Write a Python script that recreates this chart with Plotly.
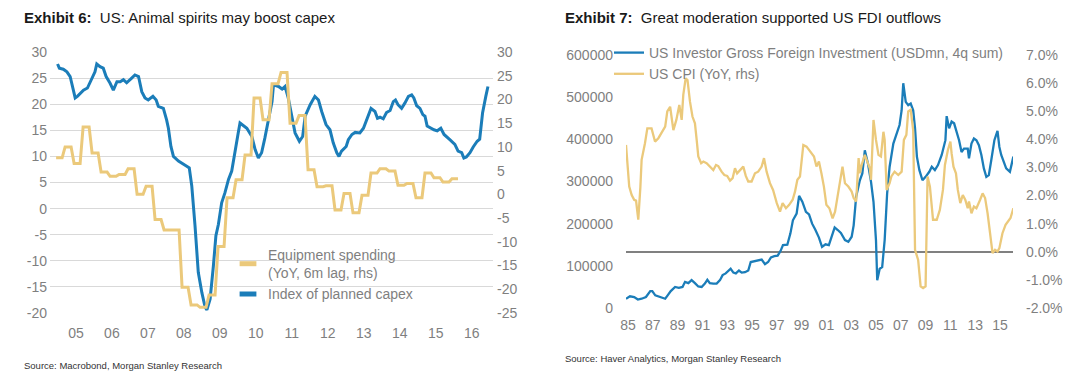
import plotly.graph_objects as go

W, H = 1081, 382

# ---------------- Exhibit 6 data ----------------
capex_t = [2005.04, 2005.09, 2005.20, 2005.30, 2005.39, 2005.44, 2005.53, 2005.59, 2005.67, 2005.76,
           2005.87, 2005.99, 2006.08, 2006.13, 2006.22, 2006.31, 2006.39, 2006.50, 2006.59, 2006.69,
           2006.78, 2006.87, 2006.96, 2007.10, 2007.19, 2007.29, 2007.38, 2007.47, 2007.56, 2007.69,
           2007.78, 2007.84, 2007.98, 2008.07, 2008.12, 2008.19, 2008.26, 2008.40, 2008.54, 2008.63,
           2008.70, 2008.77, 2008.86, 2008.95, 2009.05, 2009.14, 2009.19, 2009.28, 2009.37, 2009.44,
           2009.51, 2009.60, 2009.69, 2009.79, 2009.88, 2009.97, 2010.06, 2010.11, 2010.30, 2010.44,
           2010.53, 2010.62, 2010.71, 2010.80, 2010.90, 2011.00, 2011.04, 2011.18, 2011.28, 2011.36,
           2011.45, 2011.55, 2011.64, 2011.76, 2011.85, 2011.92, 2012.06, 2012.19, 2012.29, 2012.38,
           2012.50, 2012.61, 2012.70, 2012.80, 2012.86, 2012.93, 2013.06, 2013.12, 2013.22, 2013.31,
           2013.44, 2013.54, 2013.63, 2013.75, 2013.86, 2013.93, 2014.00, 2014.09, 2014.18, 2014.28,
           2014.37, 2014.43, 2014.50, 2014.60, 2014.69, 2014.79, 2014.88, 2014.94, 2015.02, 2015.11,
           2015.19, 2015.25, 2015.31, 2015.41, 2015.50, 2015.59, 2015.69, 2015.78, 2015.85, 2015.94,
           2016.08, 2016.17, 2016.27, 2016.33, 2016.40, 2016.50, 2016.59, 2016.70, 2016.77, 2016.85,
           2016.94, 2017.00]
capex_v = [27.7, 26.9, 26.7, 26.2, 25.3, 24.0, 21.2, 21.5, 22.1, 22.7,
           23.1, 24.7, 26.2, 27.7, 27.2, 26.9, 25.3, 24.0, 22.7, 24.3,
           24.3, 24.7, 24.1, 25.0, 25.6, 25.3, 22.4, 21.2, 20.8, 21.5,
           20.8, 19.6, 19.2, 17.0, 15.4, 11.9, 10.0, 9.1, 8.4, 8.1,
           7.8, 4.3, -3.3, -12.2, -16.1, -18.9, -19.4, -17.3, -11.0, -5.2,
           -3.0, 1.1, 3.0, 5.6, 7.2, 11.3, 14.5, 16.4, 15.4, 13.8,
           11.3, 9.7, 10.7, 13.5, 16.7, 20.5, 23.7, 23.4, 22.9, 23.4,
           21.2, 17.7, 14.5, 12.9, 13.8, 17.7, 19.9, 21.5, 20.8, 18.6,
           16.1, 15.1, 12.6, 10.7, 10.0, 11.0, 11.9, 13.2, 14.2, 14.6,
           14.5, 15.4, 17.0, 19.2, 18.6, 17.3, 17.5, 17.2, 18.4, 18.8,
           20.5, 20.8, 19.9, 19.2, 20.2, 21.5, 21.8, 21.2, 19.7, 19.2,
           18.0, 17.7, 15.8, 15.4, 15.1, 14.9, 15.4, 14.2, 13.8, 13.2,
           12.3, 11.0, 10.7, 9.7, 9.9, 10.7, 11.8, 12.9, 13.3, 18.3,
           21.5, 23.4]

# Equipment spending (quarterly figures shown monthly), Jan 2005 - Mar 2016
equip_v = [7.7, 7.7, 7.7, 10.0, 10.0, 10.0, 6.5, 6.5, 6.5, 14.2, 14.2, 14.2,
           8.7, 8.7, 8.7, 4.7, 4.7, 4.7, 3.8, 3.8, 3.8, 4.2, 4.2, 4.2,
           5.4, 5.4, 5.4, 0.0, 0.0, 0.0, 1.7, 1.7, 1.7, -5.3, -5.3, -5.3,
           -7.5, -7.5, -7.5, -7.5, -7.5, -7.5, -19.6, -19.6, -19.6, -23.3, -23.3, -23.3,
           -23.8, -23.8, -23.8, -21.2, -21.2, -21.2, -11.0, -11.0, -11.0, -0.7, -0.7, -0.7,
           3.1, 3.1, 3.1, 8.3, 8.3, 8.3, 20.3, 20.3, 20.3, 15.7, 15.7, 15.7,
           23.3, 23.3, 23.3, 25.7, 25.7, 25.7, 15.0, 15.0, 15.0, 16.6, 16.6, 16.6,
           5.2, 5.2, 5.2, 1.6, 1.6, 1.6, 1.8, 1.8, 1.8, -3.3, -3.3, -3.3,
           0.2, 0.2, 0.2, -3.9, -3.9, -3.9, -0.2, -0.2, -0.2, 4.5, 4.5, 4.5,
           5.4, 5.4, 5.4, 4.9, 4.9, 4.9, 1.9, 1.9, 1.9, 2.3, 2.3, 2.3,
           -0.7, -0.7, -0.7, 4.5, 4.5, 4.5, 3.5, 3.5, 3.5, 2.6, 2.6, 2.6,
           3.3, 3.3, 3.3]
equip_t = [2005 + m / 12 for m in range(len(equip_v))]

years6 = list(range(2005, 2017))
year6_labels = ["05", "06", "07", "08", "09", "10", "11", "12", "13", "14", "15", "16"]
left6_ticks = [-20, -15, -10, -5, 0, 5, 10, 15, 20, 25, 30]
left6_labels = ["-20", "-15", "-10", "-5", "0", "5", "10", "15", "20", "25", "30"]
right6_ticks = [-25, -20, -15, -10, -5, 0, 5, 10, 15, 20, 25, 30]
right6_labels = ["-25", "-20", "-15", "-10", "-5", "0", "5", "10", "15", "20", "25", "30"]

# ---------------- Exhibit 7 data ----------------
fdi_t = [1984.84, 1985.16, 1985.50, 1985.80, 1986.10, 1986.45, 1986.80, 1986.96, 1987.20, 1987.45,
         1987.70, 1988.00, 1988.20, 1988.45, 1988.80, 1989.10, 1989.40, 1989.60, 1989.87, 1990.13,
         1990.40, 1990.67, 1990.94, 1991.20, 1991.40, 1991.60, 1991.88, 1992.15, 1992.42, 1992.63,
         1992.88, 1993.10, 1993.28, 1993.50, 1993.70, 1993.95, 1994.17, 1994.44, 1994.70, 1994.90,
         1995.24, 1995.50, 1995.78, 1996.05, 1996.30, 1996.53, 1996.80, 1997.07, 1997.30, 1997.50,
         1997.85, 1998.10, 1998.30, 1998.60, 1998.80, 1999.06, 1999.35, 1999.60, 1999.85, 2000.10,
         2000.40, 2000.65, 2000.93, 2001.20, 2001.45, 2001.67, 2001.92, 2002.17, 2002.50, 2002.77,
         2003.04, 2003.20, 2003.40, 2003.70, 2003.90, 2004.10, 2004.35, 2004.60, 2004.80, 2005.00,
         2005.10, 2005.30, 2005.50, 2005.70, 2005.90, 2006.10, 2006.40, 2006.65, 2006.90, 2007.07,
         2007.20, 2007.40, 2007.60, 2007.80, 2008.00, 2008.15, 2008.30, 2008.50, 2008.75, 2009.00,
         2009.30, 2009.50, 2009.75, 2010.00, 2010.30, 2010.60, 2010.70, 2010.90, 2011.10, 2011.30,
         2011.50, 2011.70, 2011.90, 2012.10, 2012.40, 2012.50, 2012.70, 2012.90, 2013.10, 2013.30,
         2013.50, 2013.70, 2013.90, 2014.10, 2014.30, 2014.55, 2014.80, 2014.95, 2015.10, 2015.30,
         2015.50, 2015.80, 2016.08]
fdi_v = [22000, 27700, 26000, 20000, 22000, 26000, 40000, 40000, 30000, 28000,
         26000, 22000, 30000, 40000, 50000, 48000, 50000, 62000, 59000, 66000,
         59000, 51000, 50000, 58000, 67000, 59000, 58000, 58000, 66000, 78000,
         82000, 89000, 93000, 84000, 82000, 89000, 84000, 85000, 89000, 109000,
         112000, 113000, 115000, 104000, 109000, 120000, 123000, 124000, 135000, 149000,
         150000, 177000, 208000, 224000, 266000, 252000, 228000, 222000, 200000, 186000,
         167000, 145000, 151000, 149000, 172000, 191000, 185000, 178000, 161000, 157000,
         169000, 196000, 264000, 303000, 319000, 374000, 343000, 299000, 252000, 161000,
         66000, 93000, 97000, 161000, 272000, 335000, 390000, 414000, 434000, 469000,
         533000, 489000, 481000, 485000, 469000, 426000, 359000, 327000, 303000, 311000,
         323000, 335000, 327000, 339000, 363000, 398000, 455000, 426000, 442000, 438000,
         418000, 398000, 370000, 378000, 378000, 355000, 390000, 402000, 398000, 386000,
         363000, 331000, 311000, 315000, 351000, 398000, 420000, 382000, 363000, 347000,
         331000, 323000, 359000]

cpi_t = [1984.84, 1984.95, 1985.10, 1985.30, 1985.50, 1985.65, 1985.83, 1986.00, 1986.10, 1986.37,
         1986.56, 1986.90, 1987.18, 1987.45, 1987.70, 1988.00, 1988.17, 1988.40, 1988.66, 1988.90,
         1989.14, 1989.33, 1989.46, 1989.65, 1989.80, 1990.00, 1990.20, 1990.40, 1990.54, 1990.67,
         1990.90, 1991.08, 1991.34, 1991.60, 1991.88, 1992.10, 1992.28, 1992.55, 1992.77, 1993.00,
         1993.23, 1993.44, 1993.63, 1993.80, 1994.03, 1994.30, 1994.50, 1994.70, 1994.97, 1995.24,
         1995.50, 1995.78, 1995.97, 1996.18, 1996.45, 1996.70, 1997.00, 1997.26, 1997.47, 1997.74,
         1998.00, 1998.28, 1998.47, 1998.66, 1998.87, 1999.14, 1999.40, 1999.68, 2000.00, 2000.20,
         2000.40, 2000.60, 2000.80, 2001.00, 2001.24, 2001.50, 2001.70, 2001.90, 2002.10, 2002.30,
         2002.50, 2002.77, 2003.04, 2003.20, 2003.40, 2003.60, 2003.70, 2003.85, 2004.10, 2004.30,
         2004.50, 2004.60, 2004.80, 2005.00, 2005.20, 2005.40, 2005.60, 2005.70, 2005.86, 2006.10,
         2006.24, 2006.50, 2006.80, 2007.07, 2007.25, 2007.45, 2007.60, 2007.80, 2008.00, 2008.15,
         2008.40, 2008.60, 2008.80, 2009.00, 2009.16, 2009.35, 2009.60, 2009.90, 2010.15, 2010.40,
         2010.56, 2010.80, 2011.00, 2011.10, 2011.25, 2011.45, 2011.60, 2011.80, 2012.00, 2012.20,
         2012.40, 2012.50, 2012.70, 2012.90, 2013.10, 2013.40, 2013.60, 2013.80, 2014.00, 2014.20,
         2014.40, 2014.60, 2014.80, 2014.95, 2015.20, 2015.45, 2015.65, 2015.85, 2016.08]
cpi_v = [3.80, 3.03, 2.32, 2.02, 1.85, 1.82, 1.14, 2.30, 3.27, 3.86,
         4.39, 4.39, 3.92, 4.04, 4.22, 4.45, 4.99, 5.16, 4.33, 4.69,
         5.22, 4.69, 5.58, 6.17, 6.11, 5.34, 4.81, 4.57, 3.98, 3.39,
         3.15, 3.21, 3.15, 3.05, 2.91, 3.09, 3.05, 2.85, 2.73, 2.70,
         2.53, 2.62, 2.97, 2.79, 2.91, 3.03, 2.70, 2.50, 2.50, 2.79,
         2.85, 3.03, 3.33, 2.85, 2.44, 2.20, 1.73, 1.43, 1.73, 1.55,
         1.67, 1.85, 2.14, 2.56, 2.68, 3.80, 3.74, 3.56, 3.39, 3.03,
         3.21, 2.79, 2.32, 1.67, 1.55, 1.19, 1.43, 1.96, 2.56, 3.03,
         2.44, 2.32, 2.14, 1.91, 1.79, 3.33, 2.79, 3.09, 3.45, 3.21,
         2.97, 2.56, 4.69, 3.98, 3.45, 3.39, 4.27, 3.98, 2.20, 2.44,
         2.68, 2.85, 2.73, 2.85, 3.98, 4.16, 4.99, 5.05, 4.33, 0.07,
         -0.29, -1.23, -1.29, -1.23, 2.68, 2.32, 1.14, 1.14, 1.49, 2.20,
         3.09, 3.62, 3.92, 3.50, 3.03, 2.79, 2.20, 1.73, 2.02, 1.85,
         1.55, 1.79, 1.37, 1.61, 1.55, 1.85, 2.08, 1.91, 1.37, 0.66,
         -0.05, 0.07, 0.01, 0.13, 0.66, 0.96, 1.08, 1.20, 1.55]

years7 = list(range(1985, 2016, 2))
year7_labels = ["85", "87", "89", "91", "93", "95", "97", "99", "01", "03", "05", "07", "09", "11", "13", "15"]
left7_ticks = [0, 100000, 200000, 300000, 400000, 500000, 600000]
left7_labels = ["0", "100000", "200000", "300000", "400000", "500000", "600000"]
right7_ticks = [-2, -1, 0, 1, 2, 3, 4, 5, 6, 7]
right7_labels = ["-2.0%", "-1.0%", "0.0%", "1.0%", "2.0%", "3.0%", "4.0%", "5.0%", "6.0%", "7.0%"]

BLUE = "#1b7db9"
GOLD = "#ebc97b"
TICK = "#7f7f7f"
FONT = "Liberation Sans, Arial, sans-serif"

fig = go.Figure()

# Exhibit 6 traces
fig.add_trace(go.Scatter(x=equip_t, y=equip_v, mode="lines", xaxis="x", yaxis="y2",
                         line=dict(color=GOLD, width=3), showlegend=False, hoverinfo="skip"))
fig.add_trace(go.Scatter(x=capex_t, y=capex_v, mode="lines", xaxis="x", yaxis="y",
                         line=dict(color=BLUE, width=3), showlegend=False, hoverinfo="skip"))
# legend entries (short thick bars)
fig.add_trace(go.Scatter(x=[None], y=[None], mode="markers", xaxis="x", yaxis="y2",
                         name="Equipment spending<br>(YoY, 6m lag, rhs)", legend="legend",
                         marker=dict(symbol="line-ew", size=12, line=dict(color=GOLD, width=5))))
fig.add_trace(go.Scatter(x=[None], y=[None], mode="markers", xaxis="x", yaxis="y",
                         name="Index of planned capex", legend="legend",
                         marker=dict(symbol="line-ew", size=12, line=dict(color=BLUE, width=5))))

# Exhibit 7 traces
fig.add_trace(go.Scatter(x=cpi_t, y=cpi_v, mode="lines", xaxis="x2", yaxis="y4",
                         line=dict(color=GOLD, width=2.3), name="US CPI (YoY, rhs)",
                         legend="legend2", hoverinfo="skip"))
fig.add_trace(go.Scatter(x=fdi_t, y=fdi_v, mode="lines", xaxis="x2", yaxis="y3",
                         line=dict(color=BLUE, width=2.3),
                         name="US Investor Gross Foreign Investment (USDmn, 4q sum)",
                         legend="legend2", hoverinfo="skip"))

tickfont = dict(family=FONT, size=14, color=TICK)
common = dict(automargin=False, showline=False, ticks="", zeroline=False, tickfont=tickfont)

fig.update_layout(
    width=W, height=H,
    margin=dict(l=0, r=0, t=0, b=0),
    paper_bgcolor="white", plot_bgcolor="white",
    font=dict(family=FONT, color=TICK),
    xaxis=dict(domain=[50 / W, 493 / W], anchor="y", range=[2004.83, 2017.14],
               tickvals=[y + 0.55 for y in years6], ticktext=year6_labels,
               showgrid=False, ticklabelstandoff=10, **common),
    yaxis=dict(domain=[1 - 313 / H, 1 - 52 / H], anchor="x", range=[-20, 30],
               tickvals=left6_ticks, ticktext=left6_labels,
               showgrid=True, gridcolor="#d9d9d9", gridwidth=1, ticklabelstandoff=2, **common),
    yaxis2=dict(overlaying="y", side="right", anchor="x", range=[-25, 30],
                tickvals=right6_ticks, ticktext=right6_labels,
                showgrid=False, ticklabelstandoff=3, **common),
    xaxis2=dict(domain=[626 / W, 1013 / W], anchor="y3", range=[1984.84, 2016.05],
                tickvals=years7, ticktext=year7_labels,
                showgrid=False, ticklabelstandoff=7, **common),
    yaxis3=dict(domain=[1 - 308 / H, 1 - 55 / H], anchor="x2", range=[0, 600000],
                tickvals=left7_ticks, ticktext=left7_labels,
                showgrid=False, ticklabelstandoff=12, **common),
    yaxis4=dict(overlaying="y3", side="right", anchor="x2", range=[-2, 7],
                tickvals=right7_ticks, ticktext=right7_labels, showgrid=False,
                ticklabelstandoff=12, automargin=False, showline=False, ticks="",
                tickfont=tickfont, zeroline=True, zerolinecolor="#808080", zerolinewidth=1.5),
    legend=dict(x=228 / W, y=1 - 239 / H, xanchor="left", yanchor="top",
                bgcolor="rgba(0,0,0,0)", font=dict(family=FONT, size=14, color=TICK),
                tracegroupgap=0, itemwidth=30),
    legend2=dict(x=609 / W, y=1 - 37 / H, xanchor="left", yanchor="top",
                 bgcolor="rgba(0,0,0,0)", font=dict(family=FONT, size=14, color=TICK),
                 traceorder="reversed", tracegroupgap=0, itemwidth=30),
    hovermode=False,
)

fig.add_annotation(x=22 / W, y=1 - 17 / H, xref="paper", yref="paper", xanchor="left", yanchor="middle",
                   text="<b>Exhibit 6:</b>  US: Animal spirits may boost capex", showarrow=False,
                   font=dict(family=FONT, size=15, color="#1a1a1a"))
fig.add_annotation(x=563 / W, y=1 - 17 / H, xref="paper", yref="paper", xanchor="left", yanchor="middle",
                   text="<b>Exhibit 7:</b>  Great moderation supported US FDI outflows", showarrow=False,
                   font=dict(family=FONT, size=15, color="#1a1a1a"))
fig.add_annotation(x=22 / W, y=1 - 365 / H, xref="paper", yref="paper", xanchor="left", yanchor="middle",
                   text="Source: Macrobond, Morgan Stanley Research", showarrow=False,
                   font=dict(family=FONT, size=9.5, color="#333333"))
fig.add_annotation(x=563 / W, y=1 - 358 / H, xref="paper", yref="paper", xanchor="left", yanchor="middle",
                   text="Source: Haver Analytics, Morgan Stanley Research", showarrow=False,
                   font=dict(family=FONT, size=9.5, color="#333333"))

fig.write_html("out.html", config={"displayModeBar": False},
               post_script="document.body.style.margin='0';document.body.style.overflow='hidden';")
